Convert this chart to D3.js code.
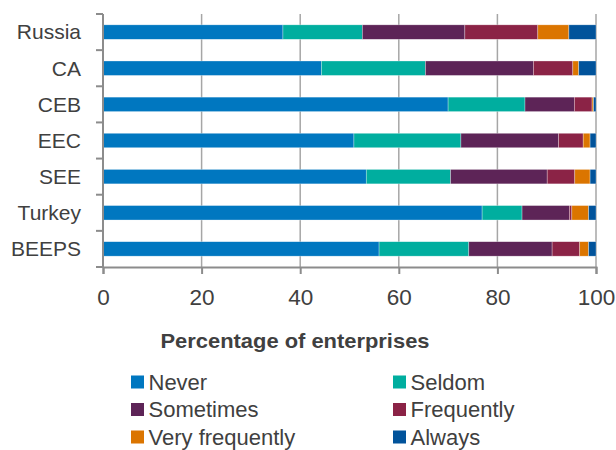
<!DOCTYPE html>
<html>
<head>
<meta charset="utf-8">
<script src="https://cdn.jsdelivr.net/npm/d3@7"></script>
<style>
  body { margin: 0; background: #fff; }
  svg text { font-family: "Liberation Sans", Arial, sans-serif; }
</style>
</head>
<body>
<div id="chart"></div>
<script>
var categories = ["Russia", "CA", "CEB", "EEC", "SEE", "Turkey", "BEEPS"];
var seriesNames = ["Never", "Seldom", "Sometimes", "Frequently", "Very frequently", "Always"];
var never      = [36.5, 44.3, 70.0, 50.9, 53.4, 76.9, 56.0];
var seldom     = [16.1, 21.1, 15.6, 21.7, 17.1,  8.1, 18.2];
var sometimes  = [20.8, 21.9, 10.0, 19.8, 19.6,  9.6, 16.9];
var frequently = [14.8,  8.0,  3.6,  5.0,  5.6,  0.5,  5.6];
var veryFreq   = [ 6.3,  1.2,  0.3,  1.4,  3.1,  3.4,  1.8];
var always     = [ 5.5,  3.5,  0.5,  1.2,  1.2,  1.5,  1.5];
var xTicks = [0, 20, 40, 60, 80, 100];
var colors = ["#0077c0", "#00ae9f", "#5d2457", "#8b2346", "#db7500", "#01539b"];

var seriesValues = [never, seldom, sometimes, frequently, veryFreq, always];

var width = 616, height = 450,
    margin = {top: 14, right: 20, bottom: 183, left: 103};

var svg = d3.select("#chart").append("svg")
    .attr("width", width)
    .attr("height", height);

var x = d3.scaleLinear([0, 100], [margin.left, width - margin.right]);
var y = d3.scaleBand(categories, [margin.top, height - margin.bottom])
    .paddingInner(0.6)
    .paddingOuter(0.3);

// build rows for the stack
var rows = categories.map(function(c, i) {
  var r = {cat: c};
  seriesNames.forEach(function(s, j) { r[s] = seriesValues[j][i]; });
  return r;
});
var stacked = d3.stack().keys(seriesNames)(rows);

// gridlines
svg.append("g")
    .selectAll("line")
    .data(xTicks.slice(1))
    .join("line")
    .attr("x1", d => x(d)).attr("x2", d => x(d))
    .attr("y1", margin.top).attr("y2", height - margin.bottom)
    .attr("stroke", "#a6a6a6")
    .attr("stroke-width", 1.5);

// bars
svg.append("g")
  .selectAll("g")
  .data(stacked)
  .join("g")
    .attr("fill", (d, i) => colors[i])
  .selectAll("rect")
  .data(d => d)
  .join("rect")
    .attr("x", d => x(d[0]))
    .attr("width", d => x(d[1]) - x(d[0]))
    .attr("y", d => y(d.data.cat))
    .attr("height", y.bandwidth())
    .attr("stroke", "#ffffff")
    .attr("stroke-opacity", 0.5)
    .attr("stroke-width", 0.6);

// y axis: ticks at band boundaries
var yAxis = svg.append("g");
var edges = d3.range(categories.length + 1).map(i => margin.top + i * (height - margin.bottom - margin.top) / categories.length);
yAxis.append("line")
    .attr("x1", margin.left).attr("x2", margin.left)
    .attr("y1", margin.top).attr("y2", height - margin.bottom)
    .attr("stroke", "#8c8c8c").attr("stroke-width", 2);
yAxis.selectAll("line.tick")
    .data(edges)
    .join("line")
    .attr("class", "tick")
    .attr("x1", margin.left - 7).attr("x2", margin.left)
    .attr("y1", d => d).attr("y2", d => d)
    .attr("stroke", "#8c8c8c").attr("stroke-width", 2);
yAxis.selectAll("text")
    .data(categories)
    .join("text")
    .attr("x", margin.left - 22)
    .attr("y", d => y(d) + y.bandwidth() / 2)
    .attr("dy", "0.35em")
    .attr("text-anchor", "end")
    .attr("fill", "#404040")
    .attr("font-size", 21)
    .text(d => d);

// x axis
var xAxis = svg.append("g")
    .attr("transform", "translate(0," + (height - margin.bottom) + ")")
    .call(d3.axisBottom(x).tickValues(xTicks).tickSize(7).tickPadding(15));
xAxis.select(".domain").attr("stroke", "#8c8c8c").attr("stroke-width", 2);
xAxis.selectAll(".tick line").attr("stroke", "#8c8c8c").attr("stroke-width", 2);
xAxis.selectAll(".tick text")
    .attr("fill", "#404040")
    .attr("font-size", 22.5);

// axis title
svg.append("text")
    .attr("x", 295)
    .attr("y", 348)
    .attr("text-anchor", "middle")
    .attr("font-size", 21)
    .attr("font-weight", "bold")
    .attr("fill", "#404040")
    .attr("textLength", 269)
    .attr("lengthAdjust", "spacingAndGlyphs")
    .text("Percentage of enterprises");

// legend
var legend = svg.append("g")
  .selectAll("g")
  .data(seriesNames)
  .join("g")
    .attr("transform", (d, i) => "translate(" + (i % 2 ? 393 : 131) + "," + (382 + Math.floor(i / 2) * 27.5) + ")");
legend.append("rect")
    .attr("x", 0).attr("y", -6.5)
    .attr("width", 13).attr("height", 13)
    .attr("fill", (d, i) => colors[i]);
legend.append("text")
    .attr("x", 17.5)
    .attr("dy", "0.35em")
    .attr("font-size", 22)
    .attr("fill", "#404040")
    .text(d => d);
</script>
</body>
</html>
